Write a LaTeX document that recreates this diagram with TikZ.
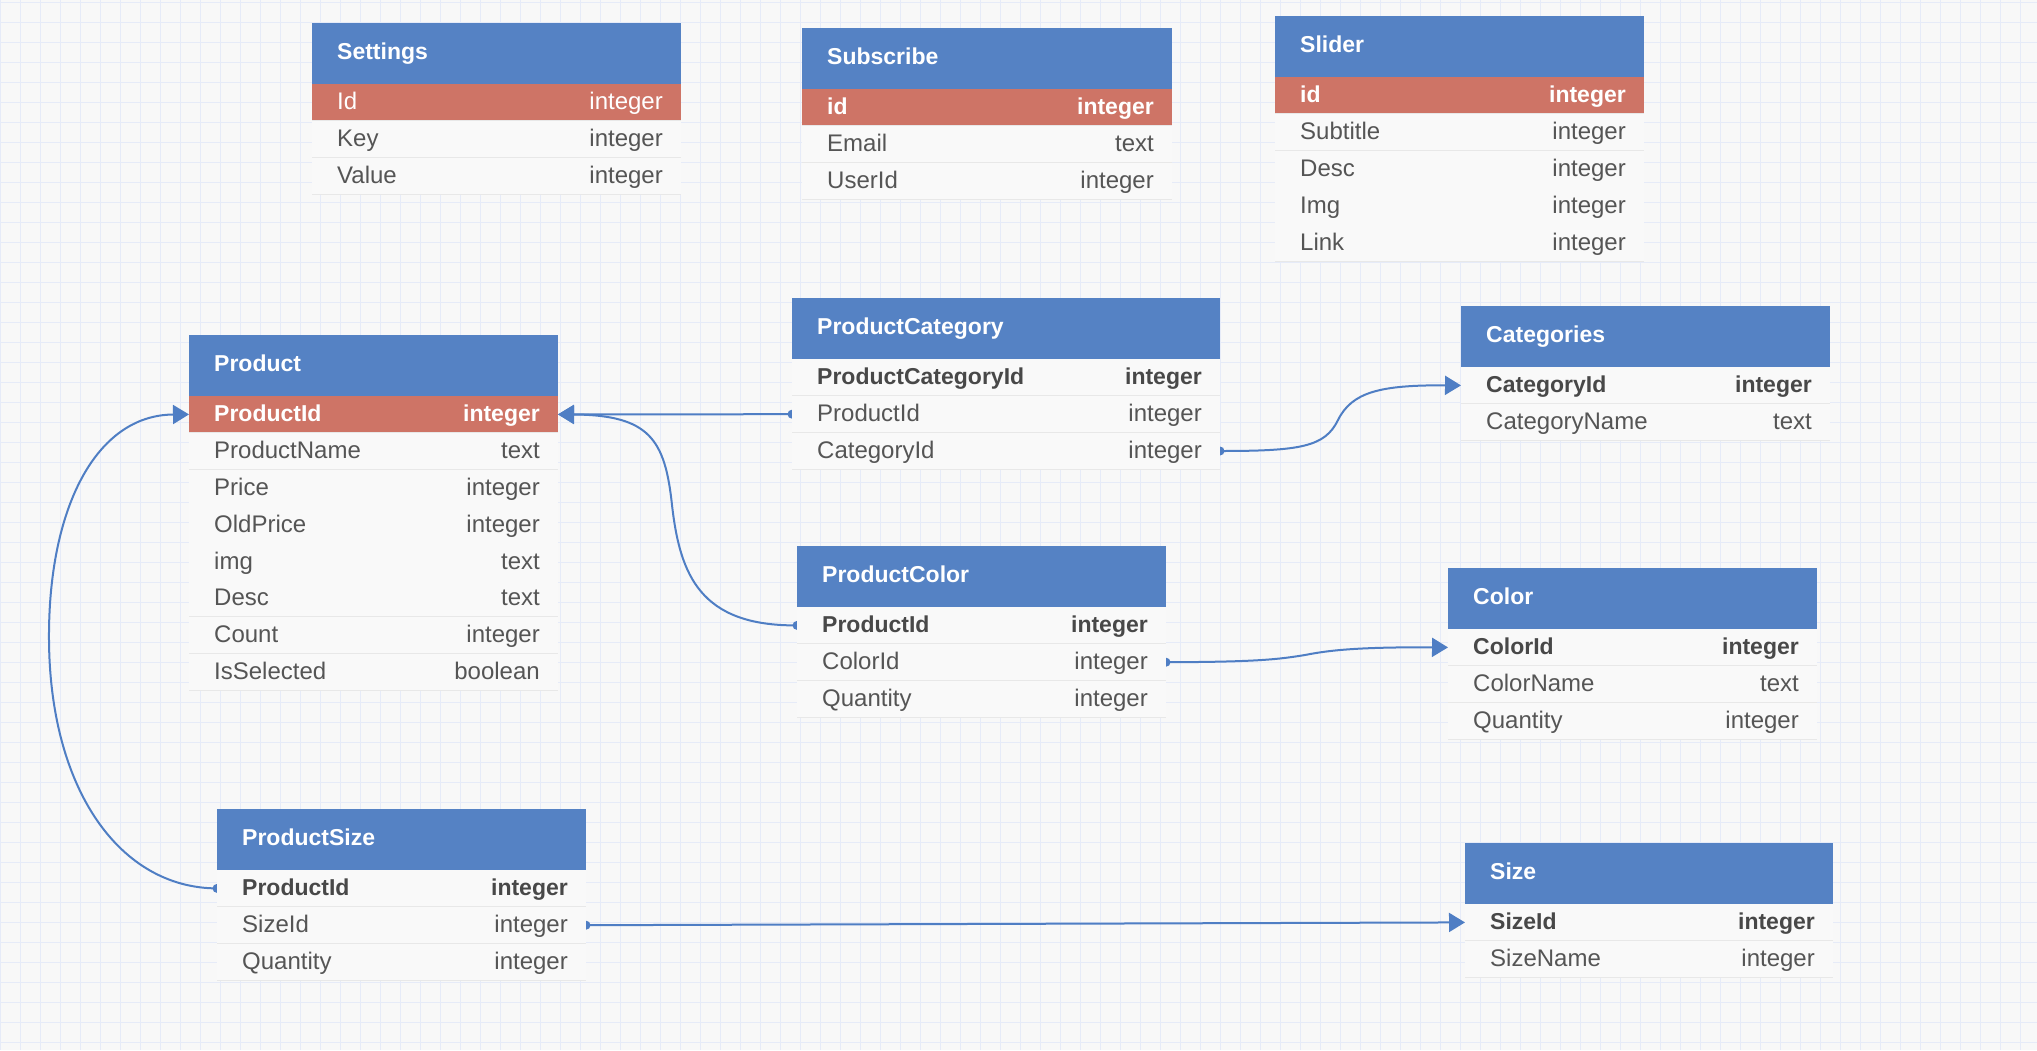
\documentclass[tikz,border=0pt]{standalone}
\usepackage{fontspec}
\setmainfont{Liberation Sans}
\usetikzlibrary{arrows.meta}
\definecolor{hdrblue}{HTML}{5582C4}
\definecolor{pkred}{HTML}{CE7466}
\definecolor{bgcol}{HTML}{F8F8F8}
\definecolor{gridcol}{HTML}{E6EBF8}
\definecolor{bodycol}{HTML}{F9F9F9}
\definecolor{sepcol}{HTML}{E8E8E8}
\definecolor{txtgray}{HTML}{555555}
\definecolor{txtdark}{HTML}{484848}
\definecolor{conncol}{HTML}{4F7EC4}
\pgfdeclarelayer{front}
\pgfsetlayers{main,front}
\tikzset{
 hdrbox/.style={fill=hdrblue, draw=none, minimum height=61pt, inner sep=0pt, outer sep=0pt},
 hdrtxt/.style={text=white, font=\fontsize{23}{27}\selectfont\bfseries, inner sep=0pt},
 rowbox/.style={fill=bodycol, draw=none, minimum height=36.8pt, inner sep=0pt, outer sep=0pt},
 rowtxt/.style={text=txtgray, font=\fontsize{24}{28}\selectfont, inner sep=0pt},
 boxn/.style={}, txtn/.style={},
 boxb/.style={}, txtb/.style={text=txtdark, font=\fontsize{23}{27}\selectfont\bfseries},
 boxr/.style={fill=pkred}, txtr/.style={text=white},
 boxrb/.style={fill=pkred}, txtrb/.style={text=white, font=\fontsize{23}{27}\selectfont\bfseries},
 rowsep/.style={draw=sepcol, line width=1pt},
 conn/.style={draw=conncol, line width=2pt, -{Triangle[length=16pt,width=19pt]}},
 conndot/.style={fill=conncol},
 gridline/.style={draw=gridcol, line width=1pt},
}
% #1 name, #2 x, #3 y, #4 width, #5 title, #6 rows kind/left/right
\newcommand\dbtable[6]{%
  \node[hdrbox, minimum width=#4pt, anchor=north west] (#1) at (#2,#3) {};
  \node[hdrtxt, anchor=base west] (#1-title) at ([xshift=25pt,yshift=-6.2pt]#1.west) {#5};
  \foreach \rowk/\rowl/\rowr [count=\i] in {#6} {
    \node[rowbox, box\rowk, minimum width=#4pt, anchor=north west] (#1-\i) at (#2,{#3+61+(\i-1)*36.8}) {};
    \node[rowtxt, txt\rowk, anchor=base west] (#1-\i-l) at ([xshift=25pt,yshift=-7.4pt]#1-\i.west) {\rowl};
    \node[rowtxt, txt\rowk, anchor=base east] (#1-\i-r) at ([xshift=-18pt,yshift=-7.4pt]#1-\i.east) {\rowr};
    \draw[rowsep] (#1-\i.south west) -- (#1-\i.south east);
  }%
}
\begin{document}
\begin{tikzpicture}[x=1pt,y=-1pt]
\useasboundingbox (0,0) rectangle (2037,1050);
\fill[bgcol] (0,0) rectangle (2037,1050);
\foreach \gx in {0,20,...,2040} \draw[gridline] (\gx,0) -- (\gx,1050);
\foreach \gy in {2,22,...,1042} \draw[gridline] (0,\gy) -- (2037,\gy);

\begin{pgfonlayer}{front}
\dbtable{settings}{312}{23}{369}{Settings}{r/Id/integer,n/Key/integer,n/Value/integer}
\dbtable{subscribe}{802}{28}{370}{Subscribe}{rb/id/integer,n/Email/text,n/UserId/integer}
\dbtable{slider}{1275}{16}{369}{Slider}{rb/id/integer,n/Subtitle/integer,n/Desc/integer,n/Img/integer,n/Link/integer}
\dbtable{pcat}{792}{298}{428}{ProductCategory}{b/ProductCategoryId/integer,n/ProductId/integer,n/CategoryId/integer}
\dbtable{cat}{1461}{306}{369}{Categories}{b/CategoryId/integer,n/CategoryName/text}
\dbtable{prod}{189}{335}{369}{Product}{rb/ProductId/integer,n/ProductName/text,n/Price/integer,n/OldPrice/integer,n/img/text,n/Desc/text,n/Count/integer,n/IsSelected/boolean}
\dbtable{pcol}{797}{546}{369}{ProductColor}{b/ProductId/integer,n/ColorId/integer,n/Quantity/integer}
\dbtable{color}{1448}{568}{369}{Color}{b/ColorId/integer,n/ColorName/text,n/Quantity/integer}
\dbtable{psize}{217}{809}{369}{ProductSize}{b/ProductId/integer,n/SizeId/integer,n/Quantity/integer}
\dbtable{size}{1465}{843}{368}{Size}{b/SizeId/integer,n/SizeName/integer}
\end{pgfonlayer}

% connectors
\fill[conndot] (pcat-2.west) circle (4.5pt);
\draw[conn] (pcat-2.west) -- (prod-1.east);

\fill[conndot] (pcol-1.west) circle (4.5pt);
\draw[conn] (pcol-1.west) .. controls (700,626) and (680,575) .. (672,505)
  .. controls (665,440) and (650,415) .. (prod-1.east);

\fill[conndot] (psize-1.west) circle (4.5pt);
\draw[conn] (psize-1.west) .. controls (120,888) and (50,790) .. (49,640)
  .. controls (48,510) and (95,415) .. (prod-1.west);

\fill[conndot] (pcat-3.east) circle (4.5pt);
\draw[conn] (pcat-3.east) .. controls (1300,451) and (1325,447) .. (1338,420)
  .. controls (1352,392) and (1380,385) .. (cat-1.west);

\fill[conndot] (pcol-2.east) circle (4.5pt);
\draw[conn] (pcol-2.east) .. controls (1260,662) and (1280,659) .. (1305,655)
  .. controls (1330,650) and (1360,647) .. (color-1.west);

\fill[conndot] (psize-2.east) circle (4.5pt);
\draw[conn] (psize-2.east) -- (size-1.west);
\end{tikzpicture}
\end{document}
